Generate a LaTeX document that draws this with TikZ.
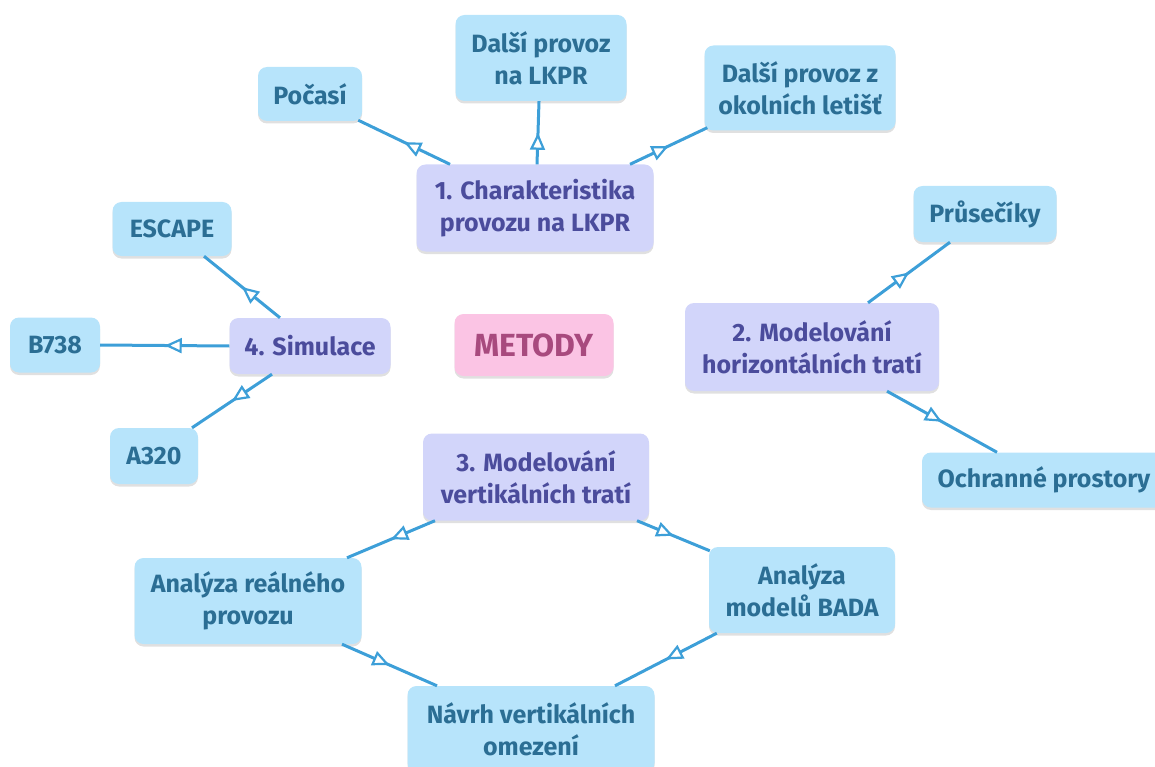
\documentclass[tikz,border=0pt]{standalone}
\usepackage{fontspec}
\setmainfont{Fira Sans}
\usetikzlibrary{arrows.meta,decorations.markings,calc,shadows}
\definecolor{edgec}{RGB}{61,159,216}
\definecolor{bluef}{RGB}{183,228,251}
\definecolor{bluet}{RGB}{43,110,148}
\definecolor{purpf}{RGB}{210,213,250}
\definecolor{purpt}{RGB}{75,76,156}
\definecolor{pinkf}{RGB}{251,196,228}
\definecolor{pinkt}{RGB}{168,74,126}
\tikzset{
  box/.style={rounded corners=9pt, align=center, inner sep=0pt,
    font=\fontsize{25}{32}\selectfont\bfseries,
    drop shadow={shadow xshift=0pt, shadow yshift=-2.5pt, opacity=0.12, fill=black}},
  leaf/.style={box, fill=bluef, text=bluet},
  topic/.style={box, fill=purpf, text=purpt},
  root/.style={box, fill=pinkf, text=pinkt, font=\fontsize{32}{36}\selectfont\bfseries},
  conn/.style={draw=edgec, line width=3pt,
    postaction={decorate},
    decoration={markings, mark=at position 0.5 with {\arrow[edgec, line width=2.2pt]{Triangle[open, fill=white, length=17pt, width=15pt]}}}},
}
\begin{document}
\begin{tikzpicture}[x=1pt, y={(0,-1pt)}]
\useasboundingbox (0,0) rectangle (1155,767);
% nodes
\node[leaf, minimum width=104pt, minimum height=54pt] (pocasi) at (310,94) {Počasí};
\node[leaf, minimum width=171pt, minimum height=86pt] (dal1) at (541,58) {Další provoz\\na LKPR};
\node[leaf, minimum width=191pt, minimum height=85pt] (dal2) at (800,88) {Další provoz z\\okolních letišť};
\node[topic, minimum width=237pt, minimum height=87pt] (c1) at (535,208) {1. Charakteristika\\provozu na LKPR};
\node[leaf, minimum width=119pt, minimum height=54pt] (escape) at (172,229) {ESCAPE};
\node[leaf, minimum width=90pt, minimum height=55pt] (b738) at (55,345) {B738};
\node[topic, minimum width=161pt, minimum height=56pt] (sim) at (310,346) {4. Simulace};
\node[leaf, minimum width=88pt, minimum height=56pt] (a320) at (154,456) {A320};
\node[root, minimum width=159pt, minimum height=62pt] (metody) at (534,345) {METODY};
\node[leaf, minimum width=143pt, minimum height=56pt] (prus) at (985,214) {Průsečíky};
\node[topic, minimum width=254pt, minimum height=88pt] (c2) at (812,347) {2. Modelování\\horizontálních tratí};
\node[leaf, minimum width=244pt, minimum height=55pt] (ochr) at (1044,480) {Ochranné prostory};
\node[topic, minimum width=226pt, minimum height=87pt] (c3) at (536,477) {3. Modelování\\vertikálních tratí};
\node[leaf, minimum width=227pt, minimum height=86pt] (anal1) at (248,601) {Analýza reálného\\provozu};
\node[leaf, minimum width=186pt, minimum height=86pt] (bada) at (802,590) {Analýza\\modelů BADA};
\node[leaf, minimum width=247pt, minimum height=86pt] (navrh) at (531,729) {Návrh vertikálních\\omezení};
% connectors
\draw[conn] ($(c1.north)+(-85,0)$) -- ($(pocasi.south east)+(-4,-1)$);
\draw[conn] ($(c1.north)+(2,0)$) -- ($(dal1.south)+(-2,0)$);
\draw[conn] ($(c1.north)+(95,0)$) -- ($(dal2.south west)+(3,-3)$);
\draw[conn] ($(sim.north)+(-30,0)$) -- ($(escape.south)+(32,0)$);
\draw[conn] (sim.west) -- (b738.east);
\draw[conn] ($(sim.south)+(-38,0)$) -- ($(a320.north)+(38,0)$);
\draw[conn] ($(c2.north)+(56,0)$) -- ($(prus.south)+(-35,0)$);
\draw[conn] ($(c2.south)+(75,0)$) -- ($(ochr.north)+(-47,0)$);
\draw[conn] ($(c3.south)+(-101,0)$) -- ($(anal1.north)+(99,0)$);
\draw[conn] ($(c3.south)+(101,0)$) -- ($(bada.north west)+(1,4)$);
\draw[conn] ($(anal1.south)+(94,0)$) -- ($(navrh.north)+(-94,0)$);
\draw[conn] ($(bada.south west)+(8,0)$) -- ($(navrh.north)+(84,0)$);
\end{tikzpicture}
\end{document}
